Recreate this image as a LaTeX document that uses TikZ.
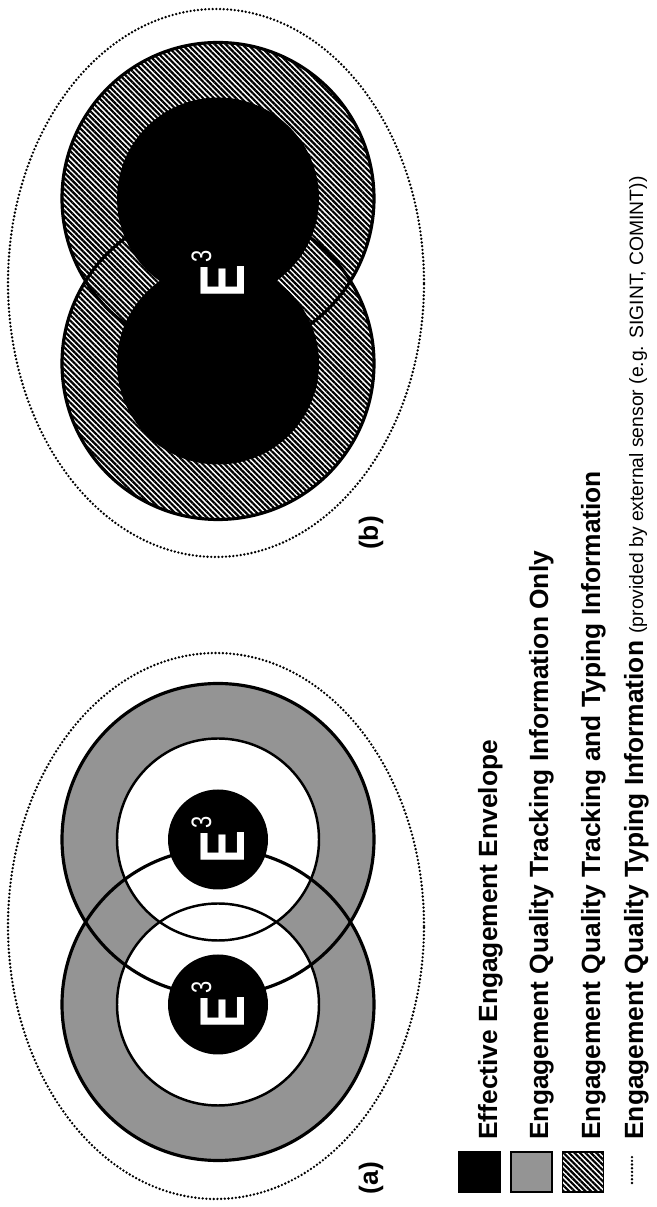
\documentclass[tikz,border=0pt]{standalone}
\usepackage{fontspec}
\setmainfont{Liberation Sans}
\usetikzlibrary{patterns.meta}

\newcommand{\Ethree}{{\fontsize{36}{36}\selectfont\bfseries E}\hspace{1.5pt}\raisebox{19pt}{\fontsize{16}{16}\selectfont 3}}

\begin{document}
\begin{tikzpicture}[x=0.02cm, y=0.02cm,
    envelope/.style={line width=1.5pt, line cap=round, dash pattern=on 0pt off 2.1pt},
    stipple/.style={fill=black!42},
    hatch/.style={pattern={Lines[angle=-45, distance=2.2pt, line width=1.25pt]}, pattern color=black},
    outerring/.style={line width=1.8pt},
    innerring/.style={line width=1.4pt},
    eee/.style={text=white, rotate=90, xscale=0.78, inner sep=0pt},
    lbl/.style={rotate=90, inner sep=0pt, font=\fontsize{15}{15}\selectfont\bfseries},
    swatch/.style={draw, line width=1pt, minimum width=0.82cm, minimum height=0.8cm, inner sep=0pt},
    key/.style={rotate=90, anchor=base west, inner sep=0pt, font=\fontsize{15}{15}\selectfont\bfseries}]

\useasboundingbox (0,0) rectangle (656,1207);

% --- Panel (a): two sensors ---
\fill[stipple] (218,367.5) circle (156) (218,202.5) circle (156);
\fill[white] (218,367.5) circle (101) (218,202.5) circle (101);
\draw[outerring] (218,367.5) circle (156) (218,202.5) circle (156);
\draw[innerring] (218,367.5) circle (101) (218,202.5) circle (101);
\fill (218,367.5) circle (50) (218,202.5) circle (50);
\node[eee] (ea1) at (218,367.5) {\Ethree};
\node[eee] (ea2) at (218,202.5) {\Ethree};
\draw[envelope] (216,281) ellipse (208 and 273);
\node[lbl] (la) at (371,29) {(a)};

% --- Panel (b): combined envelope ---
\path[hatch] (218,1008.5) circle (156) (218,843.5) circle (156);
\draw[outerring] (218,1008.5) circle (156) (218,843.5) circle (156);
\fill (218,1008.5) circle (101) (218,843.5) circle (101);
\node[eee] (eb) at (218,933) {\Ethree};
\draw[envelope] (216,924) ellipse (208 and 274);
\node[lbl] (lb) at (371,674) {(b)};

% --- Legend ---
\node[swatch, fill=black] (kblack) at (479.5,35) {};
\node[swatch, fill=black!42] (kgray) at (531.5,35) {};
\node[swatch, hatch] (khatch) at (583,35) {};
\coordinate (kd1) at (632,24);
\coordinate (kd2) at (632,52);
\draw[envelope] (kd1) -- (kd2);
\node[key] (t1) at (497,67) {Effective Engagement Envelope};
\node[key] (t2) at (548,67) {Engagement Quality Tracking Information Only};
\node[key] (t3) at (600,67) {Engagement Quality Tracking and Typing Information};
\node[key] (t4) at (643,67) {Engagement Quality Typing Information {\fontsize{11}{11}\selectfont\mdseries (provided by external sensor (e.g. SIGINT, COMINT))}};
\end{tikzpicture}
\end{document}
